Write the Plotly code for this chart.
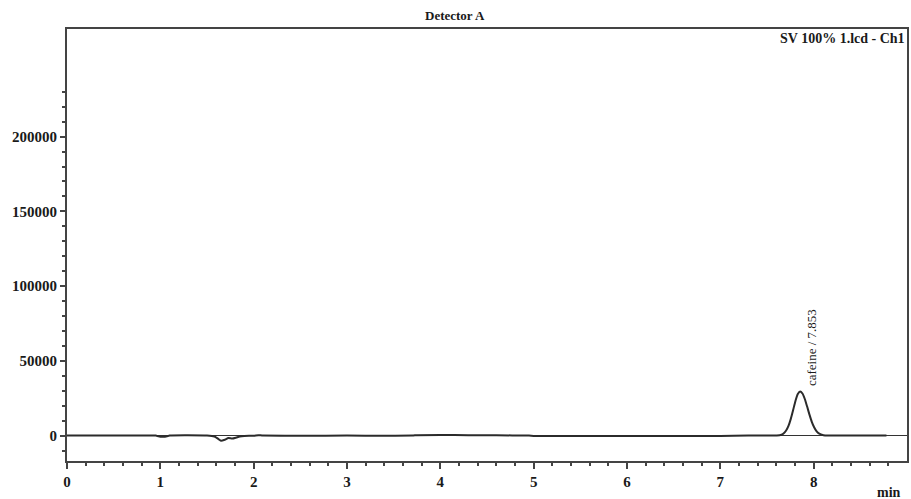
import plotly.graph_objects as go

# Chromatogram readings (time in min, signal in uV)
time_min = [0.0, 0.5, 0.95, 0.98, 1.0, 1.05, 1.07, 1.1, 1.5, 1.58, 1.62, 1.65, 1.69, 1.73, 1.77, 1.81, 1.85, 1.9, 2.0,
            2.05, 2.1, 3.0, 3.7, 3.75, 4.0, 4.3, 4.6, 4.95, 5.0, 6.0, 7.0, 7.3,
            7.605, 7.655, 7.68, 7.705, 7.73, 7.755, 7.78, 7.805, 7.83, 7.855, 7.88, 7.905, 7.93,
            7.955, 7.98, 8.005, 8.03, 8.055, 8.105, 8.155, 8.4, 8.78]
signal = [0, 0, 0, -500, -700, -700, -500, 0, 0, -600, -2200, -3500, -2800, -1600, -2000, -1400, -600, -200, -100,
          300, 0, 0, 0, 300, 400, 300, 200, 0, -200, -200, -200, 0,
          70, 600, 1500, 3400, 6500, 11200, 17100, 23200, 27800, 29500, 28150, 24500, 19400,
          14000, 9200, 5550, 3000, 1500, 280, 35, 0, 0]

peak_label = "cafeine / 7.853"
peak_time = 7.855
peak_height = 29500

x_major = [0, 1, 2, 3, 4, 5, 6, 7, 8]
x_minor = [round(i * 0.2, 1) for i in range(45)]
y_major = [0, 50000, 100000, 150000, 200000]
y_minor = [v * 10000 for v in range(-1, 24)]

serif = "Liberation Serif"
ink = "#2b2b2b"
txt = "#1a1a1a"

fig = go.Figure()
fig.add_trace(go.Scatter(x=time_min, y=signal, mode="lines",
                         line=dict(color=ink, width=2, shape="spline", smoothing=0.6),
                         hoverinfo="skip", showlegend=False))

fig.update_layout(
    width=911, height=499,
    margin=dict(l=67, r=4, t=29, b=38, autoexpand=False),
    paper_bgcolor="white", plot_bgcolor="white",
    font=dict(family=serif, size=14, color=txt),
    showlegend=False,
    xaxis=dict(range=[0, 9], showgrid=False, zeroline=False, automargin=False,
               showline=True, mirror=True, linecolor="#444", linewidth=2,
               tickmode="array", tickvals=x_major, ticktext=["<b>%d</b>" % v for v in x_major],
               ticks="outside", ticklen=6, tickwidth=1.5, tickcolor="#444",
               tickfont=dict(family=serif, size=15, color=txt),
               minor=dict(tickmode="array", tickvals=x_minor, ticks="outside", ticklen=3,
                          tickwidth=1.5, tickcolor="#444", showgrid=False)),
    yaxis=dict(range=[-17000, 272000], showgrid=False, automargin=False,
               zeroline=True, zerolinecolor="#333", zerolinewidth=1.2,
               showline=True, mirror=True, linecolor="#444", linewidth=2,
               tickmode="array", tickvals=y_major, ticktext=["<b>%d</b>" % v for v in y_major],
               ticks="outside", ticklen=5, tickwidth=1.5, tickcolor="#444",
               tickfont=dict(family=serif, size=15, color=txt),
               minor=dict(tickmode="array", tickvals=y_minor, ticks="outside", ticklen=3,
                          tickwidth=1.5, tickcolor="#444", showgrid=False)),
    annotations=[
        dict(text="<b>Detector A</b>", x=0.5, y=1, xref="paper", yref="paper", showarrow=False,
             xanchor="center", yanchor="bottom", yshift=4, xshift=-32,
             font=dict(family=serif, size=13, color=txt)),
        dict(text="<b>SV 100% 1.lcd - Ch1</b>", x=1, y=1, xref="paper", yref="paper",
             xanchor="right", yanchor="top", showarrow=False,
             font=dict(family=serif, size=14, color=txt)),
        dict(text="<b>min</b>", x=1, y=0, xref="paper", yref="paper", xanchor="right", yanchor="top",
             yshift=-22, xshift=-4, showarrow=False, font=dict(family=serif, size=14, color=txt)),
        dict(text=peak_label, x=peak_time, y=peak_height, xref="x", yref="y", textangle=-90,
             xanchor="center", yanchor="bottom", xshift=12, yshift=3, showarrow=False,
             font=dict(family=serif, size=13, color=txt)),
    ],
)

fig.write_html("out.html", config={"displayModeBar": False},
               post_script="document.body.style.margin='0';document.body.style.padding='0';")
